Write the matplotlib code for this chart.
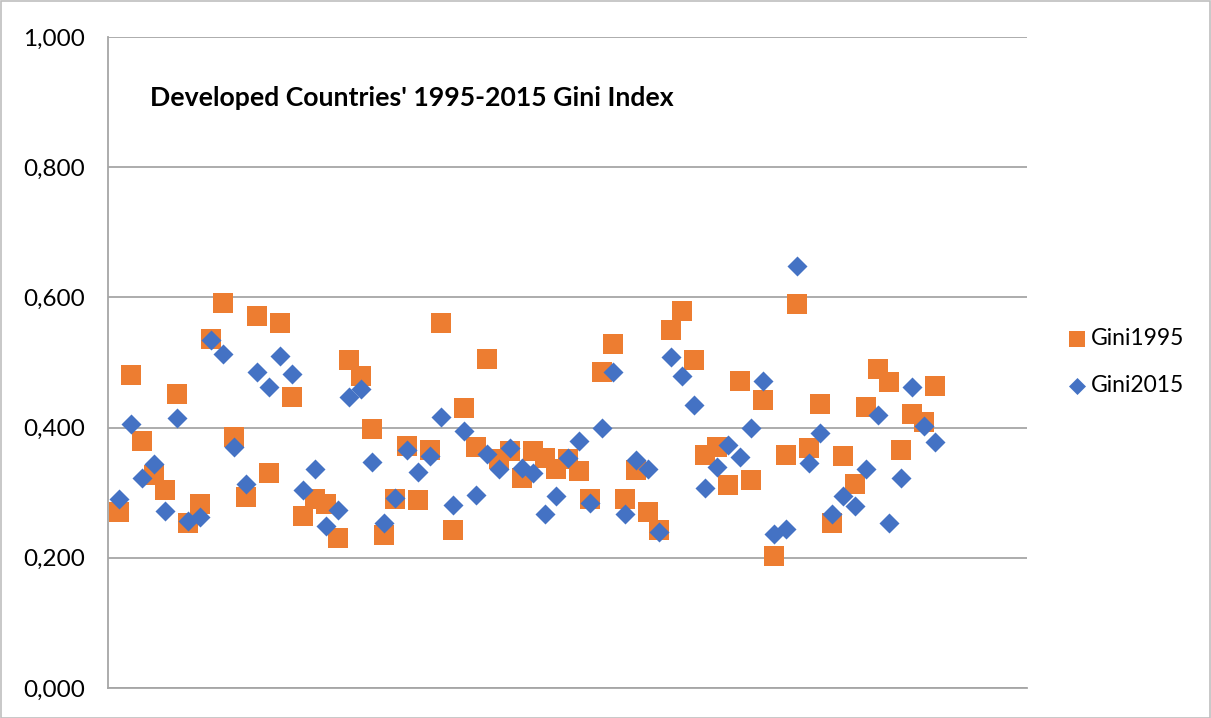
import numpy as np
import matplotlib.pyplot as plt
from matplotlib.patches import Rectangle
from matplotlib.ticker import FuncFormatter

plt.rcParams['font.family'] = ['Lato', 'DejaVu Sans']

# Gini index per country (x = 1..72)
gini_1995 = [
    0.271, 0.481, 0.380, 0.327, 0.304, 0.452, 0.253, 0.282, 0.536, 0.591,
    0.386, 0.293, 0.572, 0.330, 0.560, 0.447, 0.264, 0.291, 0.282, 0.230,
    0.504, 0.480, 0.398, 0.235, 0.290, 0.371, 0.289, 0.366, 0.560, 0.242,
    0.430, 0.370, 0.506, 0.352, 0.364, 0.322, 0.364, 0.354, 0.336, 0.352,
    0.333, 0.290, 0.485, 0.529, 0.290, 0.335, 0.271, 0.243, 0.550, 0.579,
    0.504, 0.358, 0.370, 0.312, 0.471, 0.319, 0.443, 0.202, 0.358, 0.590,
    0.368, 0.436, 0.253, 0.356, 0.313, 0.432, 0.490, 0.470, 0.366, 0.421,
    0.409, 0.464,
]
gini_2015 = [
    0.290, 0.406, 0.323, 0.344, 0.272, 0.414, 0.256, 0.263, 0.534, 0.513,
    0.370, 0.314, 0.485, 0.462, 0.510, 0.483, 0.304, 0.336, 0.249, 0.274,
    0.447, 0.459, 0.347, 0.253, 0.292, 0.365, 0.332, 0.356, 0.416, 0.281,
    0.395, 0.296, 0.360, 0.337, 0.369, 0.338, 0.331, 0.267, 0.295, 0.354,
    0.379, 0.284, 0.400, 0.486, 0.267, 0.350, 0.337, 0.239, 0.508, 0.480,
    0.434, 0.307, 0.340, 0.374, 0.355, 0.399, 0.472, 0.236, 0.245, 0.648,
    0.346, 0.392, 0.267, 0.295, 0.279, 0.337, 0.419, 0.254, 0.323, 0.462,
    0.402, 0.378,
]
x = np.arange(1, len(gini_1995) + 1)

W, H = 1211, 718
fig = plt.figure(figsize=(W / 100, H / 100), dpi=100)
ax = fig.add_axes([108 / W, 1 - 688 / H, (1027 - 108) / W, (688 - 37) / H])

grid_col = '#a6a6a6'
ax.scatter(x, gini_1995, marker='s', s=13.9 ** 2, color='#ED7D31',
           linewidths=0, label='Gini1995', zorder=3)
ax.scatter(x, gini_2015, marker='D', s=10.2 ** 2, color='#4472C4',
           linewidths=0, label='Gini2015', zorder=4)

ax.set_xlim(0, 80)
ax.set_ylim(0, 1.0)
ax.set_yticks(np.arange(0, 1.01, 0.2))
ax.yaxis.set_major_formatter(FuncFormatter(lambda v, p: f'{v:.3f}'.replace('.', ',')))
ax.set_xticks([])
ax.tick_params(axis='y', length=0, pad=16.5, labelsize=17.5, labelcolor='#000000')
ax.grid(axis='y', color=grid_col, linewidth=1.3, zorder=0)
ax.set_axisbelow(True)
for side in ['top', 'right']:
    ax.spines[side].set_visible(False)
ax.spines['left'].set_color(grid_col)
ax.spines['bottom'].set_color(grid_col)
ax.spines['left'].set_linewidth(1.3)
ax.spines['bottom'].set_linewidth(1.3)

ax.text(0.0457, 0.906, "Developed Countries' 1995-2015 Gini Index",
        transform=ax.transAxes, fontsize=19.2, fontweight='bold',
        ha='left', va='center')

fig.legend(loc='center left', bbox_to_anchor=(1043 / W, 1 - 362 / H),
           frameon=False, fontsize=16.5, markerscale=0.85,
           handletextpad=0.0, labelspacing=1.1, handlelength=1.2)

fig.patches.append(Rectangle((0.5 / W, 0.5 / H), 1 - 1.5 / W, 1 - 1.5 / H,
                             transform=fig.transFigure, fill=False,
                             edgecolor='#bfbfbf', linewidth=1.2))

fig.savefig('out.png', dpi=100)
